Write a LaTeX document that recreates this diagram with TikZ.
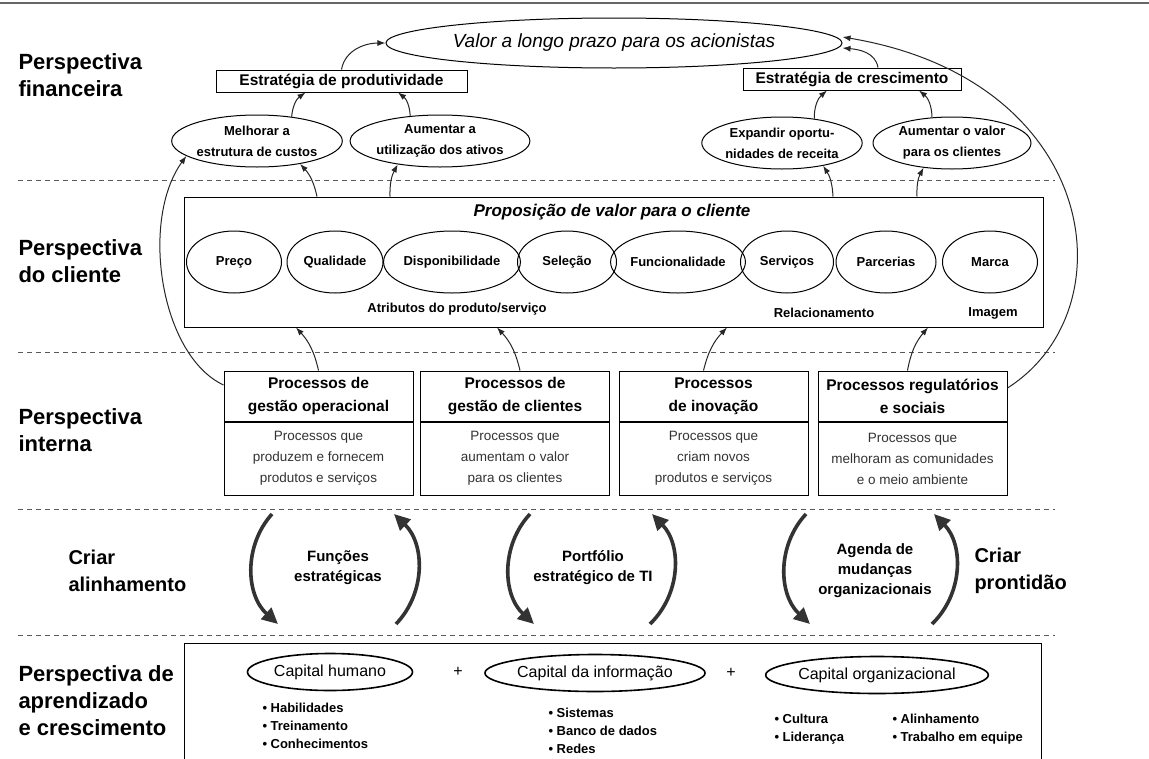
\documentclass[tikz,border=0pt]{standalone}
\usepackage{fontspec}
\setmainfont{Liberation Sans}
\usetikzlibrary{shapes,arrows.meta,positioning,calc}

\begin{document}
\begin{tikzpicture}[
  x=1pt, y=1pt, line width=1pt,
  persp/.style={anchor=west, align=left, inner sep=0pt,
    font=\fontsize{22}{27}\selectfont\bfseries},
  strat/.style={draw, minimum height=22pt, inner sep=2pt,
    font=\fontsize{15.5}{18}\selectfont\bfseries},
  goal/.style={draw, ellipse, inner sep=0pt, minimum height=52pt, align=center,
    font=\fontsize{13}{21}\selectfont\bfseries},
  attrib/.style={draw, ellipse, inner sep=0pt, minimum height=62pt,
    font=\fontsize{13}{16}\selectfont\bfseries},
  ptitle/.style={draw, minimum width=189pt, minimum height=50pt, inner sep=0pt,
    align=center, font=\fontsize{15.5}{23}\selectfont\bfseries},
  pbody/.style={draw, minimum width=189pt, minimum height=73pt, inner sep=0pt,
    align=center, anchor=north, text=black!80,
    font=\fontsize{13.5}{21}\selectfont},
  capel/.style={draw, ellipse, line width=1.6pt, inner sep=0pt, minimum height=37pt,
    font=\fontsize{16}{19}\selectfont},
  bul/.style={anchor=west, align=left, inner sep=0pt,
    font=\fontsize{13}{18}\selectfont\bfseries},
  lbl/.style={inner sep=0pt, font=\fontsize{13}{16}\selectfont\bfseries},
  loopt/.style={align=center, inner sep=0pt, font=\fontsize{15}{20}\selectfont\bfseries},
  divider/.style={line width=0.9pt, dash pattern=on 5pt off 4pt, black!65},
  arr/.style={-{Latex[length=8pt,width=6pt]}, black!85},
  bigarr/.style={-{Triangle[length=16pt,width=15pt]}, line width=3.6pt, black!80}
]
\useasboundingbox (0,0) rectangle (1149,-758);
\fill[white] (0,0) rectangle (1149,-758);
\clip (0,0) rectangle (1149,-758);
\draw[black!60, line width=2pt] (0,-3) -- (1149,-3);

%% --- Perspectiva financeira ---
\node[persp] (lfin) at (18,-75) {Perspectiva\\financeira};
\node[draw, ellipse, minimum width=378pt, minimum height=50pt, inner sep=0pt,
  font=\fontsize{19}{22}\selectfont\itshape] (valor) at (614,-43) {Valor a longo prazo para os acionistas};
\node[strat, minimum width=251pt] (prod)  at (341.5,-81) {Estratégia de produtividade};
\node[strat, minimum width=218pt] (cresc) at (852,-79)   {Estratégia de crescimento};
\node[goal, minimum width=150pt] (custos)  at (257,-141) {Melhorar a\\estrutura de custos};
\node[goal, minimum width=150pt] (ativos)  at (440,-141) {Aumentar a\\utilização dos ativos};
\node[goal, minimum width=154pt] (receita) at (782,-143) {Expandir oportu-\\nidades de receita};
\node[goal, minimum width=158pt] (valcli)  at (952,-143) {Aumentar o valor\\para os clientes};

\draw[divider] (18,-180) -- (1055,-180);

%% --- Perspectiva do cliente ---
\node[persp] (lcli) at (18,-261) {Perspectiva\\do cliente};
\node[draw, minimum width=859pt, minimum height=130pt, inner sep=0pt] (prop) at (613.5,-262) {};
\node[inner sep=0pt, font=\fontsize{17}{20}\selectfont\bfseries\itshape] (ptit) at (612,-212) {Proposição de valor para o cliente};
\node[attrib, minimum width=95pt]  (preco) at (234,-262) {Preço};
\node[attrib, minimum width=96pt]  (qual)  at (335,-262) {Qualidade};
\node[attrib, minimum width=123pt] (disp)  at (452,-262) {Disponibilidade};
\node[attrib, minimum width=99pt]  (sel)   at (567,-262) {Seleção};
\node[attrib, minimum width=110pt] (func)  at (678,-262) {Funcionalidade};
\node[attrib, minimum width=93pt]  (serv)  at (787,-262) {Serviços};
\node[attrib, minimum width=100pt] (parc)  at (886,-262) {Parcerias};
\node[attrib, minimum width=95pt]  (marca) at (990,-262) {Marca};
\node[lbl] (atrib) at (457,-309) {Atributos do produto/serviço};
\node[lbl] (rel)   at (824,-313) {Relacionamento};
\node[lbl] (img)   at (993,-313) {Imagem};

\draw[divider] (18,-352) -- (1055,-352);

%% --- Perspectiva interna ---
\node[persp] (lint) at (18,-430) {Perspectiva\\interna};
\node[ptitle] (op)   at (318.5,-396) {Processos de\\gestão operacional};
\node[pbody]  (opb)  at (op.south)   {Processos que\\produzem e fornecem\\produtos e serviços};
\node[ptitle] (cli)  at (515,-396)   {Processos de\\gestão de clientes};
\node[pbody]  (clib) at (cli.south)  {Processos que\\aumentam o valor\\para os clientes};
\node[ptitle] (inov) at (713.5,-396) {Processos\\de inovação};
\node[pbody]  (inovb) at (inov.south) {Processos que\\criam novos\\produtos e serviços};
\node[ptitle] (reg)  at (912.5,-396) {Processos regulatórios\\e sociais};
\node[pbody]  (regb) at (reg.south)  {Processos que\\melhoram as comunidades\\e o meio ambiente};

\draw[divider] (18,-509) -- (1055,-509);

%% --- Criar alinhamento / prontidao ---
\node[persp, font=\fontsize{20}{27}\selectfont\bfseries] (lalin)  at (68,-571)  {Criar\\alinhamento};
\node[persp, font=\fontsize{20}{27}\selectfont\bfseries] (lpront) at (974,-571) {Criar\\prontidão};
\node[loopt] (funcs)  at (338,-568) {Funções\\estratégicas};
\node[loopt] (portf)  at (593,-568) {Portfólio\\estratégico de TI};
\node[loopt] (agenda) at (875,-571) {Agenda de\\mudanças\\organizacionais};
\coordinate (dn1) at (272,-514); \coordinate (dn1e) at (278,-624);
\coordinate (up1) at (396,-624); \coordinate (up1e) at (394,-514);
\coordinate (dn2) at (530,-514); \coordinate (dn2e) at (534,-624);
\coordinate (up2) at (650,-624); \coordinate (up2e) at (652,-514);
\coordinate (dn3) at (806,-514); \coordinate (dn3e) at (810,-624);
\coordinate (up3) at (932,-624); \coordinate (up3e) at (934,-514);

\draw[divider] (18,-635) -- (1055,-635);

%% --- Aprendizado e crescimento ---
\node[persp] (llearn) at (18,-701) {Perspectiva de\\aprendizado\\e crescimento};
\node[draw, minimum width=857pt, minimum height=140pt, inner sep=0pt, anchor=north west] (learn) at (184,-643) {};
\node[capel, minimum width=165pt] (hum)  at (330,-672) {Capital humano};
\node[lbl, font=\fontsize{16}{19}\selectfont] (plus1) at (458,-672) {+};
\node[capel, minimum width=210pt] (info) at (595,-673) {Capital da informação};
\node[lbl, font=\fontsize{16}{19}\selectfont] (plus2) at (731,-673) {+};
\node[capel, minimum width=212pt] (org)  at (877,-675) {Capital organizacional};
\node[bul] (lhum)  at (262,-726) {• Habilidades\\• Treinamento\\• Conhecimentos};
\node[bul] (linfo) at (548,-731) {• Sistemas\\• Banco de dados\\• Redes};
\node[bul] (lorg)  at (774,-729) {• Cultura\\• Liderança};
\node[bul] (lorg2) at (892,-729) {• Alinhamento\\• Trabalho em equipe};

%% --- Arrows ---
\draw[arr] (prod.north) to[out=80,in=180] (valor.west);
\draw[arr] ([xshift=26pt]cresc.north) to[out=100,in=-5] ([yshift=-5pt]valor.east);
\draw[arr] (custos.35)  to[bend left=25]  ([xshift=-36pt]prod.south);
\draw[arr] (ativos.140) to[bend right=25] ([xshift=56.5pt]prod.south);
\draw[arr] (receita.37) to[bend left=25]  ([xshift=-25pt]cresc.south);
\draw[arr] (valcli.128) to[bend right=25] ([xshift=67pt]cresc.south);
\draw[arr] ([xshift=-296.5pt]prop.north) to[bend right=15] (custos.-28);
\draw[arr] ([xshift=-223.5pt]prop.north) to[bend left=15]  (ativos.-151);
\draw[arr] ([xshift=219.5pt]prop.north)  to[bend right=15] (receita.-29);
\draw[arr] ([xshift=303.5pt]prop.north)  to[bend left=15]  (valcli.-139);
\draw[arr] (op.north)                to[bend right=15] ([xshift=-317.5pt]prop.south);
\draw[arr] ([xshift=5pt]cli.north)   to[bend right=15] ([xshift=-116.5pt]prop.south);
\draw[arr] ([xshift=-10pt]inov.north) to[bend left=15] ([xshift=113.5pt]prop.south);
\draw[arr] ([xshift=-5pt]reg.north)  to[bend left=15]  ([xshift=314.5pt]prop.south);
\draw[arr] ([yshift=11pt]op.west) .. controls (160,-355) and (140,-220) .. (custos.192);
\draw[arr] ([yshift=8pt]reg.east) .. controls (1130,-310) and (1100,-80) .. ([yshift=6pt]valor.east);
\draw[bigarr] (dn1) to[bend right=45] (dn1e);
\draw[bigarr] (up1) to[bend right=45] (up1e);
\draw[bigarr] (dn2) to[bend right=45] (dn2e);
\draw[bigarr] (up2) to[bend right=45] (up2e);
\draw[bigarr] (dn3) to[bend right=45] (dn3e);
\draw[bigarr] (up3) to[bend right=45] (up3e);
\end{tikzpicture}
\end{document}
